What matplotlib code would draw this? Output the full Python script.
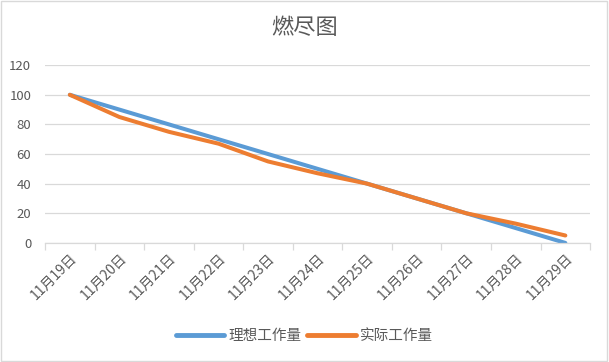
import matplotlib
matplotlib.use("Agg")
import matplotlib.pyplot as plt
import numpy as np

plt.rcParams['font.family'] = ['Noto Sans CJK SC', 'DejaVu Sans']

dates = ["11月19日", "11月20日", "11月21日", "11月22日", "11月23日", "11月24日",
         "11月25日", "11月26日", "11月27日", "11月28日", "11月29日"]
ideal = [100, 90, 80, 70, 60, 50, 40, 30, 20, 10, 0]
actual = [100, 85, 75, 67, 55, 47, 40, 30, 20, 13, 5]

text_color = '#595959'
grid_color = '#d9d9d9'

fig = plt.figure(figsize=(6.09, 3.62), dpi=100)
ax = fig.add_axes([0.074, 0.329, 0.895, 0.491])

x = np.arange(len(dates))
ax.plot(x, ideal, color='#5b9bd5', lw=2.9, label='理想工作量', solid_capstyle='round')
ax.plot(x, actual, color='#ed7d31', lw=2.9, label='实际工作量', solid_capstyle='round')

ax.set_xlim(-0.5, len(dates) - 0.5)
ax.set_ylim(0, 120)
ax.set_yticks(np.arange(0, 121, 20))
ax.yaxis.grid(True, color=grid_color, lw=0.9)
ax.set_axisbelow(True)
for s in ['top', 'right', 'left']:
    ax.spines[s].set_visible(False)
ax.spines['bottom'].set_color(grid_color)
ax.spines['bottom'].set_linewidth(0.9)

ax.set_xticks(x)
ax.set_xticklabels(dates, rotation=45, ha='right', rotation_mode='anchor',
                   color=text_color, fontsize=10)
ax.tick_params(axis='x', which='major', length=0, pad=6)
ax.set_xticks(np.arange(-0.5, len(dates), 1), minor=True)
ax.tick_params(axis='x', which='minor', length=5, color=grid_color, width=0.9)
ax.tick_params(axis='y', length=0, labelcolor=text_color, labelsize=9.5, pad=10)

fig.text(0.5, 0.925, '燃尽图', ha='center', va='center', fontsize=16, color=text_color)

leg = fig.legend(loc='center', bbox_to_anchor=(0.5, 0.072), ncol=2, frameon=False,
                 fontsize=10.5, handlelength=3.3, columnspacing=0.4, handletextpad=0.3,
                 labelcolor=text_color)
for l in leg.get_lines():
    l.set_linewidth(3.5)

border = plt.Rectangle((0.002, 0.003), 0.995, 0.993, transform=fig.transFigure,
                       fill=False, edgecolor='#d9d9d9', lw=1)
fig.patches.append(border)

fig.savefig('out.png', dpi=100)
